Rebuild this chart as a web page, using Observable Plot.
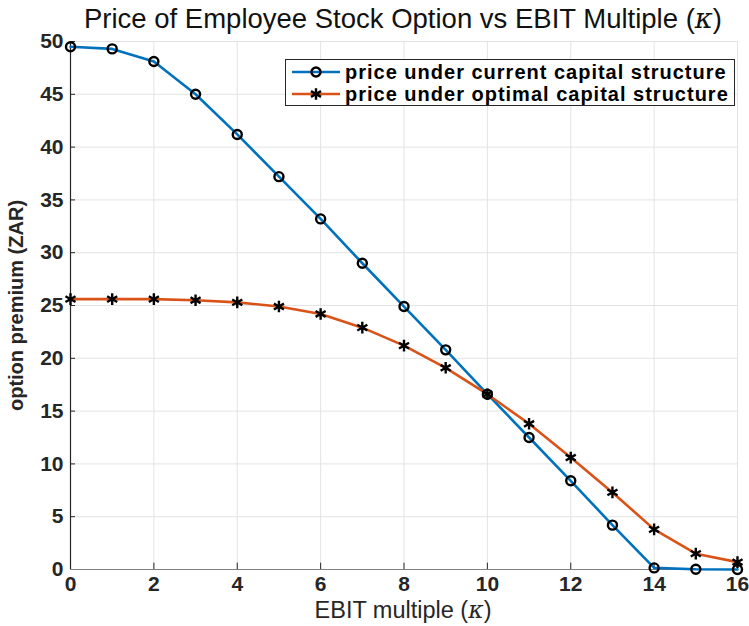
<!DOCTYPE html>
<html>
<head>
<meta charset="utf-8">
<script src="https://cdn.jsdelivr.net/npm/d3@7"></script>
<script src="https://cdn.jsdelivr.net/npm/@observablehq/plot@0.6"></script>
<style>
  body { margin: 0; background: #fff; font-family: "Liberation Sans", Arial, sans-serif; }
  #wrap { position: relative; width: 749px; height: 626px; overflow: hidden; }
  #chart { position: absolute; left: 0; top: 0; }
  #title { position: absolute; left: 0; top: 3px; width: 806px; text-align: center; font-size: 27.5px; line-height: 31px; color: #111; white-space: nowrap; }
  #xlabel { position: absolute; left: 0; top: 598px; width: 806px; text-align: center; font-size: 23.5px; line-height: 24px; color: #262626; white-space: nowrap; }
  #legend { position: absolute; left: 285px; top: 59px; width: 450px; height: 47px; border: 1px solid #262626; background: #fff; box-sizing: border-box; }
  .row { position: absolute; left: 5px; height: 22px; line-height: 22px; display: flex; align-items: center; font-weight: bold; font-size: 20px; letter-spacing: 1px; color: #000; white-space: nowrap; }
  .row span { line-height: 22px; display: inline-block; height: 22px; }
  .row svg { margin-right: 4px; }
</style>
</head>
<body>
<div id="wrap">
  <div id="chart"></div>
  <div id="title">Price of Employee Stock Option vs EBIT Multiple (<i style="font-family:'DejaVu Serif',serif">κ</i>)</div>
  <div id="xlabel">EBIT multiple (<i style="font-family:'DejaVu Serif',serif">κ</i>)</div>
  <div id="legend"></div>
</div>
<script>
const kappa = [0,1,2,3,4,5,6,7,8,9,10,11,12,13,14,15,16];
const currentPrice = [49.5,49.3,48.1,45.0,41.2,37.2,33.2,29.0,24.9,20.8,16.6,12.5,8.4,4.2,0.15,0.02,0.0];
const optimalPrice = [25.6,25.6,25.6,25.5,25.3,24.9,24.2,22.9,21.2,19.1,16.6,13.8,10.6,7.3,3.8,1.5,0.7];
const seriesNames = ["price under current capital structure", "price under optimal capital structure"];
const xTicks = [0,2,4,6,8,10,12,14,16];
const yTicks = [0,5,10,15,20,25,30,35,40,45,50];

const blue = "#0072BD", orange = "#D95319";
const cur = kappa.map((k,i)=>({k, v: currentPrice[i]}));
const opt = kappa.map((k,i)=>({k, v: optimalPrice[i]}));

const plot = Plot.plot({
  width: 749,
  height: 626,
  marginTop: 41,
  marginBottom: 57,
  marginLeft: 70,
  marginRight: 12,
  style: { fontFamily: "'Liberation Sans', Arial, sans-serif", fontSize: "21px", fontWeight: "bold", color: "#262626", background: "transparent" },
  x: { domain: [0,16], ticks: xTicks, label: null },
  y: { domain: [0,50], ticks: yTicks, label: "option premium (ZAR)" },
  marks: [
    Plot.ruleX(xTicks, { stroke: "#e3e3e3", strokeWidth: 1, strokeOpacity: 1 }),
    Plot.ruleY(yTicks, { stroke: "#e3e3e3", strokeWidth: 1, strokeOpacity: 1 }),
    Plot.ruleY(yTicks, { x1: 0, x2: 0.12, stroke: "#262626", strokeWidth: 1 }),
    Plot.ruleX(xTicks, { y1: 0, y2: 0.6, stroke: "#262626", strokeWidth: 1 }),
    Plot.axisX({ ticks: xTicks, tickSize: 0, tickPadding: 7, fontSize: 21, fontWeight: "bold", label: null }),
    Plot.axisY({ ticks: yTicks, tickSize: 0, tickPadding: 7, fontSize: 21, fontWeight: "bold",
      label: "option premium (ZAR)", labelAnchor: "center", labelArrow: "none", labelOffset: 62 }),
    Plot.ruleX([0], { stroke: "#262626", strokeWidth: 1.2 }),
    Plot.ruleY([0], { stroke: "#808080", strokeWidth: 1.2 }),
    Plot.line(cur, { x: "k", y: "v", stroke: blue, strokeWidth: 2.6 }),
    Plot.line(opt, { x: "k", y: "v", stroke: orange, strokeWidth: 2.6 }),
    Plot.dot(cur, { x: "k", y: "v", r: 4.5, stroke: "#000", strokeWidth: 2.4, fill: "none" }),
    Plot.dot(opt, { x: "k", y: "v", symbol: "asterisk", r: 5.5, stroke: "#000", strokeWidth: 2.4 })
  ]
});
document.getElementById("chart").appendChild(plot);
d3.select(plot).selectAll("[aria-label='y-axis label'] text").style("font-size", "20px").style("font-weight", "bold").style("fill", "#262626");

const lg = document.getElementById("legend");
const rows = [
  { name: seriesNames[0], color: blue, sym: "circle" },
  { name: seriesNames[1], color: orange, sym: "asterisk" }
];
rows.forEach((r, i) => {
  const div = document.createElement("div");
  div.className = "row";
  div.style.top = (i === 0 ? 1 : 23) + "px";
  const s = d3.create("svg").attr("width", 50).attr("height", 22);
  s.append("line").attr("x1", 1).attr("x2", 49).attr("y1", 11).attr("y2", 11).attr("stroke", r.color).attr("stroke-width", 2.6);
  const sym = r.sym === "circle" ? d3.symbolCircle : d3.symbolAsterisk;
  const size = r.sym === "circle" ? Math.PI * 4.5 * 4.5 : 5.5 * 5.5 * Math.PI;
  s.append("path").attr("d", d3.symbol(sym, size)()).attr("transform", "translate(25,11)")
    .attr("fill", "none").attr("stroke", "#000").attr("stroke-width", 2.4);
  div.appendChild(s.node());
  const t = document.createElement("span");
  t.textContent = r.name;
  div.appendChild(t);
  lg.appendChild(div);
});
</script>
</body>
</html>
